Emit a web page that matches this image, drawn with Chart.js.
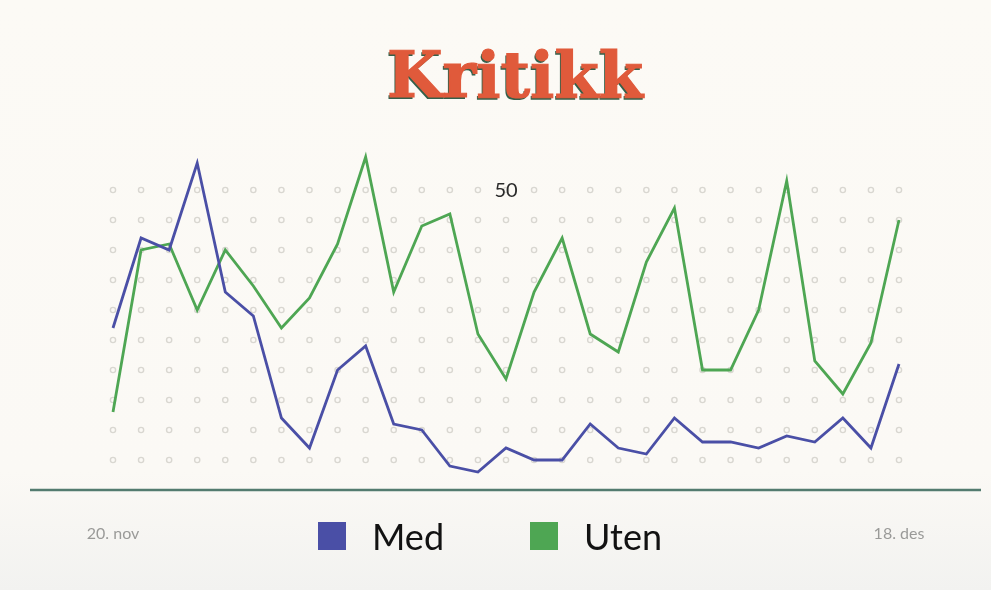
<!DOCTYPE html>
<html>
<head>
<meta charset="utf-8">
<script src="https://cdn.jsdelivr.net/npm/chart.js@4/dist/chart.umd.min.js"></script>
<style>
  html, body { margin: 0; padding: 0; background: #fcfaf5; }
  #wrap { position: relative; width: 991px; height: 590px; }
</style>
</head>
<body>
<div id="wrap"><canvas id="c" width="991" height="590"></canvas></div>
<script>
// ---- data ----
const titleText = 'Kritikk';
const categories = ['20. nov','21. nov','22. nov','23. nov','24. nov','25. nov','26. nov','27. nov','28. nov','29. nov','30. nov',
  '1. des','2. des','3. des','4. des','5. des','6. des','7. des','8. des','9. des','10. des','11. des','12. des','13. des','14. des','15. des','16. des','17. des','18. des'];
const seriesNames = ['Med', 'Uten'];
const medValues = [27, 42, 40, 54.5, 33, 29, 12, 7, 20, 24, 11, 10, 4, 3, 7, 5, 5, 11, 7, 6, 12, 8, 8, 7, 9, 8, 12, 7, 21];
const utenValues = [13, 40, 41, 30, 40, 34, 27, 32, 41, 55.5, 33, 44, 46, 26, 18.5, 33, 42, 26, 23, 38, 47, 20, 20, 30, 51.5, 21.5, 16, 24.5, 45];
const yTickLabels = ['50'];
const dotLevels = [5, 10, 15, 20, 25, 30, 35, 40, 45, 50];

const colors = { med: '#4a4fa6', uten: '#4ea653', axis: '#537b6f', dot: '#d9d7d1', title: '#e05a3b', shadow: '#34604a' };

const decor = {
  id: 'decor',
  beforeDraw(chart) {
    const ctx = chart.ctx;
    ctx.save();
    const g = ctx.createLinearGradient(0, 0, 0, chart.height);
    g.addColorStop(0, '#fcfaf5');
    g.addColorStop(0.8, '#fbf9f5');
    g.addColorStop(1, '#f2f2f0');
    ctx.fillStyle = g;
    ctx.fillRect(0, 0, chart.width, chart.height);
    ctx.restore();
  },
  beforeDatasetsDraw(chart) {
    const ctx = chart.ctx, xs = chart.scales.x, ys = chart.scales.y;
    ctx.save();
    ctx.strokeStyle = colors.dot;
    ctx.lineWidth = 1.4;
    categories.forEach((c, i) => {
      const px = xs.getPixelForValue(i);
      dotLevels.forEach(v => {
        ctx.beginPath();
        ctx.arc(px, ys.getPixelForValue(v), 2.6, 0, Math.PI * 2);
        ctx.stroke();
      });
    });
    // baseline
    const y0 = ys.getPixelForValue(0);
    ctx.strokeStyle = colors.axis;
    ctx.lineWidth = 2.5;
    ctx.beginPath();
    ctx.moveTo(30, y0);
    ctx.lineTo(981, y0);
    ctx.stroke();
    ctx.restore();
  },
  afterDraw(chart) {
    const ctx = chart.ctx, xs = chart.scales.x, ys = chart.scales.y;
    ctx.save();
    // y label "50"
    ctx.fillStyle = '#2b2b2b';
    ctx.font = '20px Lato, "Noto Sans", sans-serif';
    ctx.textAlign = 'center';
    ctx.textBaseline = 'middle';
    ctx.fillText(yTickLabels[0], xs.getPixelForValue(14), ys.getPixelForValue(Number(yTickLabels[0])) + 1);

    // title
    ctx.font = 'bold 64px "DejaVu Serif", serif';
    ctx.textAlign = 'center';
    ctx.textBaseline = 'alphabetic';
    ctx.fillStyle = colors.shadow;
    ctx.fillText(titleText, 513.5, 99);
    ctx.fillStyle = colors.title;
    ctx.strokeStyle = colors.title;
    ctx.lineWidth = 1.2;
    ctx.fillText(titleText, 515, 97);
    ctx.strokeText(titleText, 515, 97);

    // date labels
    const ly = 536;
    ctx.fillStyle = '#9a9a98';
    ctx.font = '16px Lato, "Noto Sans", sans-serif';
    ctx.textBaseline = 'middle';
    ctx.fillText(categories[0], xs.getPixelForValue(0), ly - 2);
    ctx.fillText(categories[categories.length - 1], xs.getPixelForValue(categories.length - 1), ly - 2);

    // legend
    const items = [{ x: 318, c: colors.med, t: seriesNames[0] }, { x: 530, c: colors.uten, t: seriesNames[1] }];
    ctx.font = '36px Lato, "Noto Sans", sans-serif';
    ctx.textAlign = 'left';
    items.forEach(it => {
      ctx.fillStyle = it.c;
      ctx.fillRect(it.x, ly - 14, 28, 28);
      ctx.fillStyle = '#121212';
      ctx.fillText(it.t, it.x + 54, ly + 2);
    });
    ctx.restore();
  }
};

new Chart(document.getElementById('c'), {
  type: 'line',
  data: {
    labels: categories,
    datasets: [
      { label: seriesNames[0], data: medValues, borderColor: colors.med, backgroundColor: colors.med, borderWidth: 2.8, pointRadius: 0, tension: 0, clip: false },
      { label: seriesNames[1], data: utenValues, borderColor: colors.uten, backgroundColor: colors.uten, borderWidth: 2.8, pointRadius: 0, tension: 0, clip: false }
    ]
  },
  options: {
    responsive: false,
    animation: false,
    layout: { padding: { left: 113, right: 92, top: 130, bottom: 100 } },
    scales: {
      x: { display: false, offset: false },
      y: { display: false, min: 0, max: 60 }
    },
    plugins: { legend: { display: false }, title: { display: false }, tooltip: { enabled: false } }
  },
  plugins: [decor]
});
</script>
</body>
</html>
